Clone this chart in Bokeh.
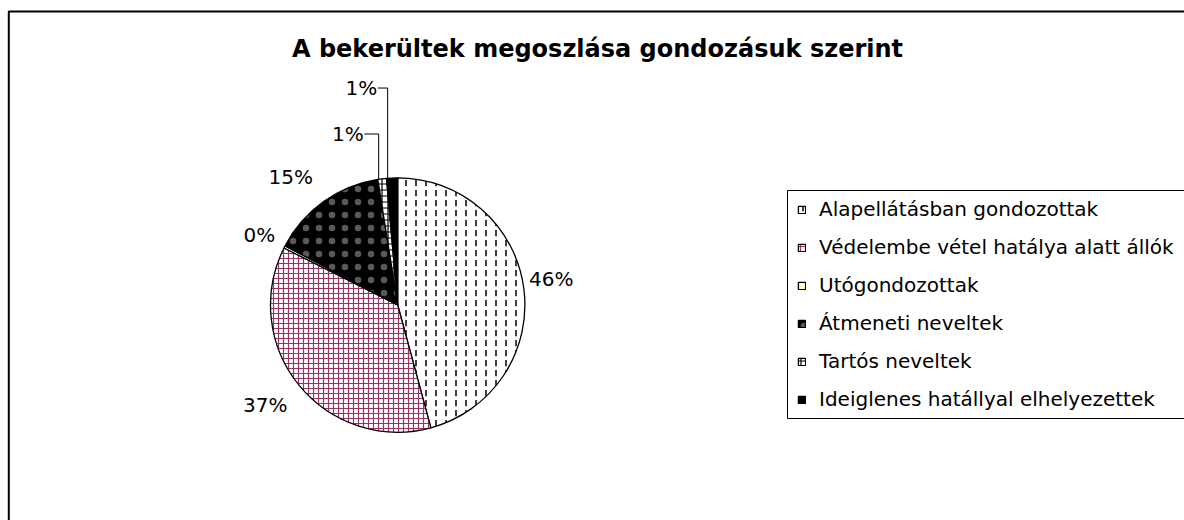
import math
from bokeh.plotting import figure
from bokeh.models import ColumnDataSource, Legend, LegendItem, BoxAnnotation, Range1d
from bokeh.embed import file_html
from bokeh.resources import INLINE
from bokeh.core.properties import value

# ---------------- data ----------------
title_text = "A bekerültek megoszlása gondozásuk szerint"
categories = [
    "Alapellátásban gondozottak",
    "Védelembe vétel hatálya alatt állók",
    "Utógondozottak",
    "Átmeneti neveltek",
    "Tartós neveltek",
    "Ideiglenes hatállyal elhelyezettek",
]
shares = [45.8, 36.6, 0.3, 14.8, 1.1, 1.4]

# ---------------- styles ----------------
fill_colors = ["#FFFFFF", "#FFFFFF", "#FFFFCC", "#000000", "#FFFFFF", "#000000"]
hatch_patterns = ["vertical_dash", "cross", "blank", "dot", "cross", "blank"]
hatch_colors = ["#000000", "#993366", "#000000", "#FFFFFF", "#000000", "#000000"]
hatch_scales = [10, 5, 4, 13, 6, 4]
hatch_weights = [1.5, 1.2, 1, 0.5, 1.2, 1]
hatch_alphas = [1.0, 1.0, 1.0, 0.35, 1.0, 1.0]
label_radius = [155.6, 165.7, 155.1, 166.6, 178.1, 220.0]
label_turn = [-1.9, 2.3, -0.2, -4.3, -9.2, -7.0]
has_leader = [False, False, False, False, True, True]

W, H = 1184, 520
cx, cy, R = 397.2, H - 304.5, 127.2
FONT = "DejaVu Sans"

total = sum(shares)
starts, ends, mids = [], [], []
acc = 0.0
for s in shares:
    starts.append(acc / total * 360.0)
    acc += s
    ends.append(acc / total * 360.0)
    mids.append((starts[-1] + ends[-1]) / 2.0)

src = ColumnDataSource(dict(
    cat=categories,
    start=[math.pi / 2 - math.radians(a) for a in starts],
    end=[math.pi / 2 - math.radians(a) for a in ends],
    fill=fill_colors,
    hp=hatch_patterns,
    hc=hatch_colors,
    hs=hatch_scales,
    hw=hatch_weights,
    ha=hatch_alphas,
))

p = figure(width=W, height=H, x_range=Range1d(0, W), y_range=Range1d(0, H),
           x_axis_type=None, y_axis_type=None, toolbar_location=None,
           output_backend="svg", min_border=0)
p.grid.visible = False
p.outline_line_color = None
p.background_fill_color = "white"
p.border_fill_color = "white"

# outer chart frame (clipped on right and bottom)
p.add_layout(BoxAnnotation(left=8.3, right=W + 200, top=H - 11, bottom=-200,
                           fill_alpha=0, line_color="black", line_alpha=1, line_width=2))

r = p.wedge(x=cx, y=cy, radius=R, start_angle="start", end_angle="end",
            direction="clock", source=src, fill_color="fill",
            hatch_pattern="hp", hatch_color="hc", hatch_scale="hs", hatch_weight="hw",
            hatch_alpha="ha", line_color="black", line_width=1.3)

# percentage labels
lx, ly, lt = [], [], []
for i, s in enumerate(shares):
    th = math.radians(mids[i] + label_turn[i])
    lx.append(cx + label_radius[i] * math.sin(th))
    ly.append(cy + label_radius[i] * math.cos(th))
    lt.append(f"{round(s / total * 100)}%")
p.text(x=lx, y=ly, text=lt, text_align="center", text_baseline="middle",
       text_font=value(FONT), text_font_size="20px", text_color="black")

# leader lines for moved labels
xs, ys = [], []
for i in range(len(shares)):
    if has_leader[i]:
        a = math.radians(starts[i] + 0.1 * (ends[i] - starts[i]))
        ax, ay = cx + R * math.sin(a), cy + R * math.cos(a)
        x0 = lx[i] + 16.5
        xs.append([x0, ax, ax])
        ys.append([ly[i], ly[i], ay])
p.multi_line(xs=xs, ys=ys, line_color="black", line_width=1)

# title
p.text(x=[597], y=[H - 48], text=[title_text], text_align="center", text_baseline="middle",
       text_font=value(FONT), text_font_style="bold", text_font_size="24px", text_color="black")

# legend frame
p.add_layout(BoxAnnotation(left=787, right=W + 200, top=H - 190, bottom=H - 418,
                           fill_color="white", fill_alpha=1, line_color="black",
                           line_alpha=1, line_width=1))

items = [LegendItem(label=c, renderers=[r], index=i) for i, c in enumerate(categories)]
legend = Legend(items=items, location=(797, H - 418), glyph_width=9, glyph_height=9,
                label_height=38, label_standoff=13, spacing=0, padding=0, margin=0,
                border_line_color=None, background_fill_alpha=0,
                label_text_font=FONT, label_text_font_size="20px", label_text_color="black")
p.add_layout(legend, "center")

open("out.html", "w").write(file_html(p, INLINE))
